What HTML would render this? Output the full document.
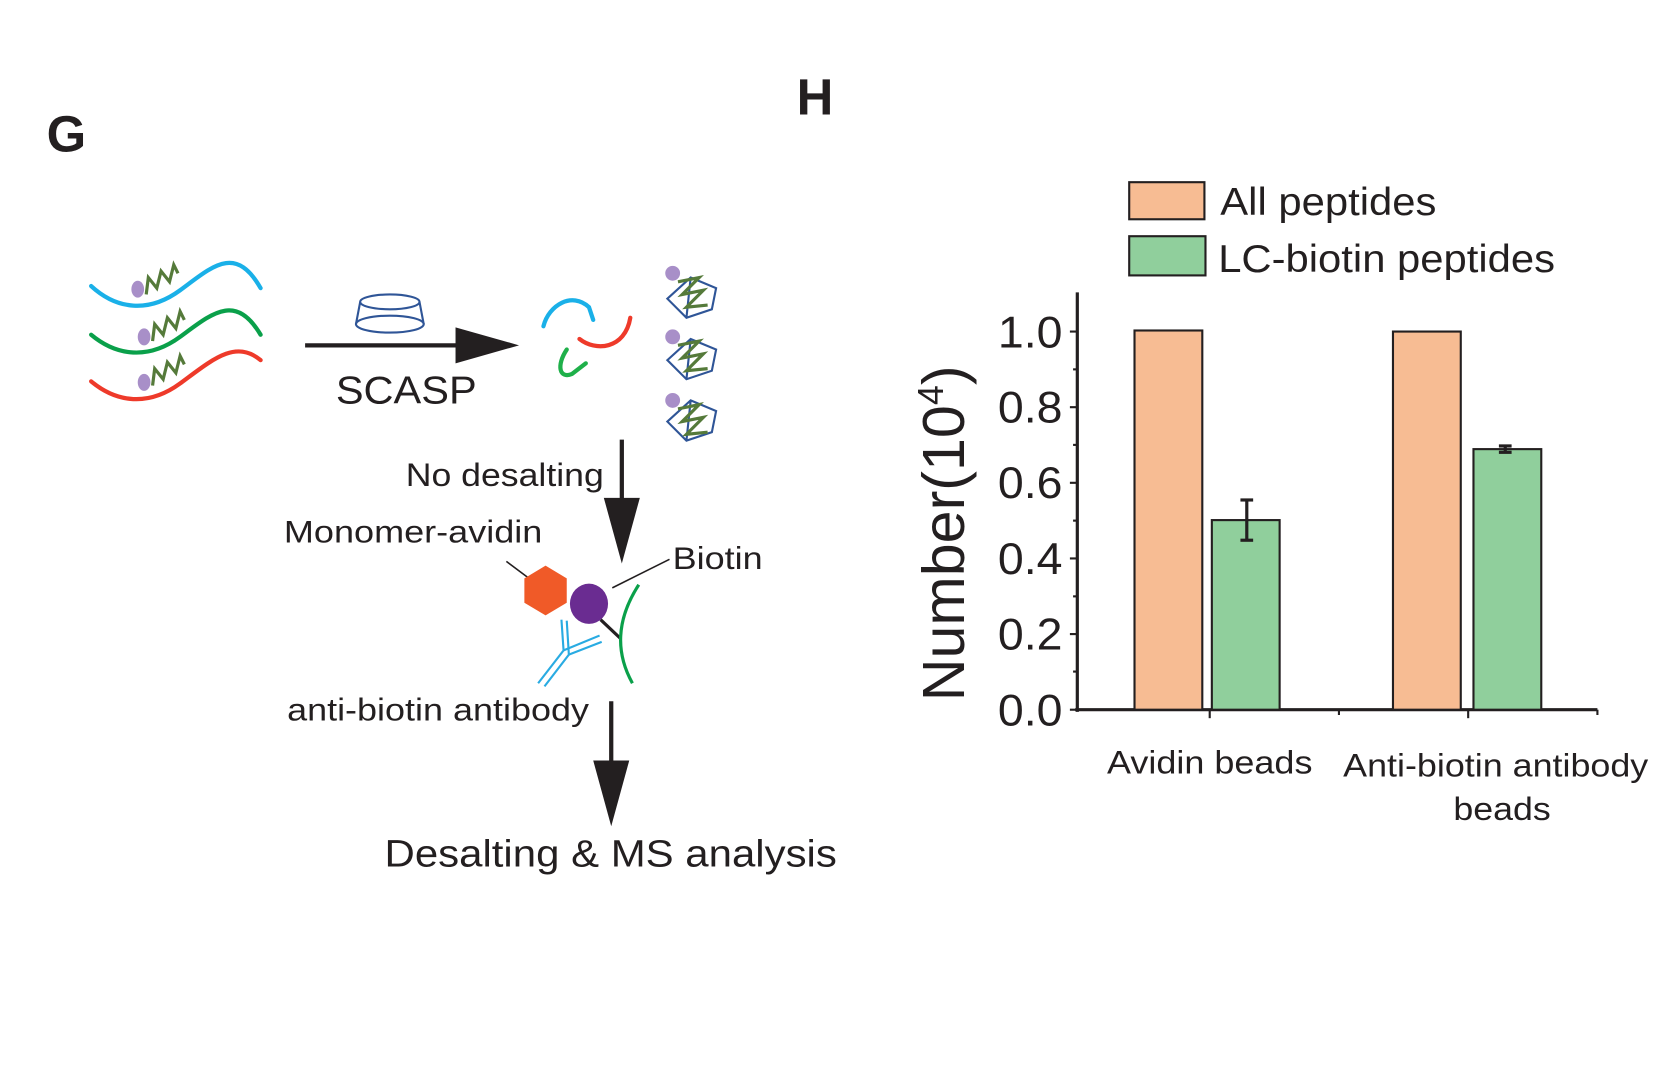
<!DOCTYPE html>
<html><head><meta charset="utf-8"><style>
html,body{margin:0;padding:0;background:#fff}
svg{display:block}
text{font-family:"Liberation Sans",Arial,sans-serif;fill:#231f20}
</style></head><body>
<svg width="1661" height="1067" viewBox="0 0 1568 1007.3" xmlns="http://www.w3.org/2000/svg">
<rect width="1568" height="1008" fill="#fff"/>
<text x="44" y="143" font-size="48" font-weight="bold">G</text>
<text x="752" y="108" font-size="48" font-weight="bold">H</text>

<g fill="none" stroke-width="4" stroke-linecap="round">
<path d="M86,270 C110,292 140,296 170,274 S222,230 246,272" stroke="#1ab0e8"/>
<path d="M86,316 C110,336 140,340 170,318 S222,276 246,316" stroke="#0aa04a"/>
<path d="M86,360 C110,380 140,384 170,362 S222,320 246,340" stroke="#ee3a2a"/>
</g>
<g fill="#a88fc8">
<ellipse cx="130" cy="273" rx="6" ry="8"/>
<ellipse cx="136" cy="318" rx="6" ry="8"/>
<ellipse cx="136" cy="361" rx="6" ry="8"/>
</g>
<g fill="none" stroke="#557a3a" stroke-width="3">
<path d="M138,278 L140,262 L148,272 L152,256 L160,266 L164,250 L168,258"/>
<path d="M144,322 L146,306 L154,316 L158,300 L166,310 L170,294 L174,302"/>
<path d="M144,364 L146,348 L154,358 L158,342 L166,352 L170,336 L174,344"/>
</g>

<g fill="none" stroke="#2f5597" stroke-width="2">
<ellipse cx="368" cy="285" rx="28" ry="7"/>
<path d="M340,285 L336,306 M396,285 L400,306"/>
<ellipse cx="368" cy="306" rx="32" ry="8"/>
</g>
<line x1="288" y1="326" x2="440" y2="326" stroke="#231f20" stroke-width="4"/>
<polygon points="430,309 490,326 430,343" fill="#231f20"/>
<text x="317" y="381" font-size="37" textLength="133" lengthAdjust="spacingAndGlyphs">SCASP</text>

<g fill="none" stroke-width="4" stroke-linecap="round">
<path d="M513,308 C518,288 540,275 556,290 L560,302" stroke="#1ab0e8"/>
<path d="M547,320 C562,332 590,330 595,300" stroke="#ee3a2a"/>
<path d="M535,330 C525,345 528,358 540,353 L553,343" stroke="#1fb04a"/>
</g>
<g fill="none" stroke="#2f5597" stroke-width="2">
<path d="M630,282 L652,262 L676,272 L672,292 L648,300 Z M652,262 L648,300"/>
<path d="M630,340 L652,320 L676,330 L672,350 L648,358 Z M652,320 L648,358"/>
<path d="M630,398 L652,378 L676,388 L672,408 L648,416 Z M652,378 L648,416"/>
</g>
<g fill="#a88fc8"><circle cx="635" cy="258" r="7"/><circle cx="635" cy="318" r="7"/><circle cx="635" cy="378" r="7"/></g>
<g fill="none" stroke="#557a3a" stroke-width="3">
<path d="M640,266 L660,262 L644,278 L664,274 L648,290 L668,288"/>
<path d="M640,326 L660,322 L644,338 L664,334 L648,350 L668,348"/>
<path d="M640,386 L660,382 L644,398 L664,394 L648,410 L668,408"/>
</g>

<line x1="587" y1="415" x2="587" y2="480" stroke="#231f20" stroke-width="4"/>
<polygon points="570,470 604,470 587,532" fill="#231f20"/>
<text x="383" y="459" font-size="31" textLength="187" lengthAdjust="spacingAndGlyphs">No desalting</text>
<text x="268" y="512" font-size="30" textLength="244" lengthAdjust="spacingAndGlyphs">Monomer-avidin</text>
<text x="635" y="537" font-size="30" textLength="85" lengthAdjust="spacingAndGlyphs">Biotin</text>
<line x1="478" y1="530" x2="498" y2="545" stroke="#231f20" stroke-width="1.5"/>
<line x1="578" y1="555" x2="632" y2="528" stroke="#231f20" stroke-width="1.5"/>
<polygon points="515,534 535,546 535,569 515,581 495,569 495,546" fill="#f05a28"/>
<ellipse cx="556" cy="570" rx="18" ry="19" fill="#6a2c91"/>
<line x1="567" y1="585" x2="586" y2="603" stroke="#231f20" stroke-width="3"/>
<path d="M603,552 Q572,600 597,645" fill="none" stroke="#0aa04a" stroke-width="3"/>
<g fill="none" stroke="#29abe2" stroke-width="2">
<path d="M508,645 L532,614 L530,585 M514,648 L537,618 L535,586"/>
<path d="M532,614 L566,600 M537,618 L568,606"/>
</g>
<text x="271" y="680" font-size="30" textLength="285" lengthAdjust="spacingAndGlyphs">anti-biotin antibody</text>
<line x1="577" y1="662" x2="577" y2="725" stroke="#231f20" stroke-width="4"/>
<polygon points="560,718 594,718 577,780" fill="#231f20"/>
<text x="363" y="818" font-size="36" textLength="427" lengthAdjust="spacingAndGlyphs">Desalting &amp; MS analysis</text>

<rect x="1066" y="172" width="71" height="35" fill="#f7bc93" stroke="#231f20" stroke-width="2"/>
<rect x="1066" y="223" width="72" height="37" fill="#90cf9c" stroke="#231f20" stroke-width="2"/>
<text x="1152" y="203" font-size="37" textLength="204" lengthAdjust="spacingAndGlyphs">All peptides</text>
<text x="1150" y="257" font-size="37" textLength="318" lengthAdjust="spacingAndGlyphs">LC-biotin peptides</text>

<g stroke="#231f20" stroke-width="3">
<line x1="1017" y1="276" x2="1017" y2="672"/>
<line x1="1015" y1="670" x2="1508" y2="670"/>
</g>
<g stroke="#231f20" stroke-width="2">
<line x1="1010" y1="313" x2="1017" y2="313"/><line x1="1010" y1="384.4" x2="1017" y2="384.4"/>
<line x1="1010" y1="455.8" x2="1017" y2="455.8"/><line x1="1010" y1="527.2" x2="1017" y2="527.2"/>
<line x1="1010" y1="598.6" x2="1017" y2="598.6"/><line x1="1010" y1="670" x2="1017" y2="670"/>
<line x1="1013" y1="348.7" x2="1017" y2="348.7"/><line x1="1013" y1="420" x2="1017" y2="420"/>
<line x1="1013" y1="491.5" x2="1017" y2="491.5"/><line x1="1013" y1="563" x2="1017" y2="563"/>
<line x1="1013" y1="634" x2="1017" y2="634"/>
<line x1="1142" y1="670" x2="1142" y2="678"/><line x1="1386" y1="670" x2="1386" y2="678"/>
<line x1="1264" y1="670" x2="1264" y2="675"/><line x1="1508" y1="670" x2="1508" y2="675"/>
</g>
<g font-size="42">
<text x="942" y="328" textLength="61" lengthAdjust="spacingAndGlyphs">1.0</text><text x="942" y="399" textLength="61" lengthAdjust="spacingAndGlyphs">0.8</text><text x="942" y="470" textLength="61" lengthAdjust="spacingAndGlyphs">0.6</text>
<text x="942" y="542" textLength="61" lengthAdjust="spacingAndGlyphs">0.4</text><text x="942" y="613" textLength="61" lengthAdjust="spacingAndGlyphs">0.2</text><text x="942" y="685" textLength="61" lengthAdjust="spacingAndGlyphs">0.0</text>
</g>
<text transform="translate(910,662) rotate(-90)" font-size="56" textLength="317" lengthAdjust="spacingAndGlyphs">Number(10<tspan font-size="34" dy="-20">4</tspan><tspan dy="20">)</tspan></text>

<g stroke="#231f20" stroke-width="2">
<rect x="1071" y="312" width="64" height="358" fill="#f7bc93"/>
<rect x="1144" y="491" width="64" height="179" fill="#90cf9c"/>
<rect x="1315" y="313" width="64" height="357" fill="#f7bc93"/>
<rect x="1391" y="424" width="64" height="246" fill="#90cf9c"/>
</g>
<g stroke="#231f20" stroke-width="3">
<line x1="1177" y1="472" x2="1177" y2="510"/><line x1="1171" y1="472" x2="1183" y2="472"/><line x1="1171" y1="510" x2="1183" y2="510"/>
<line x1="1421" y1="421" x2="1421" y2="427"/><line x1="1415" y1="421" x2="1427" y2="421"/><line x1="1415" y1="427" x2="1427" y2="427"/>
</g>
<g font-size="31">
<text x="1045" y="730" textLength="194" lengthAdjust="spacingAndGlyphs">Avidin beads</text>
<text x="1268" y="733" textLength="288" lengthAdjust="spacingAndGlyphs">Anti-biotin antibody</text>
<text x="1372" y="774" textLength="92" lengthAdjust="spacingAndGlyphs">beads</text>
</g>
</svg>
</body></html>
